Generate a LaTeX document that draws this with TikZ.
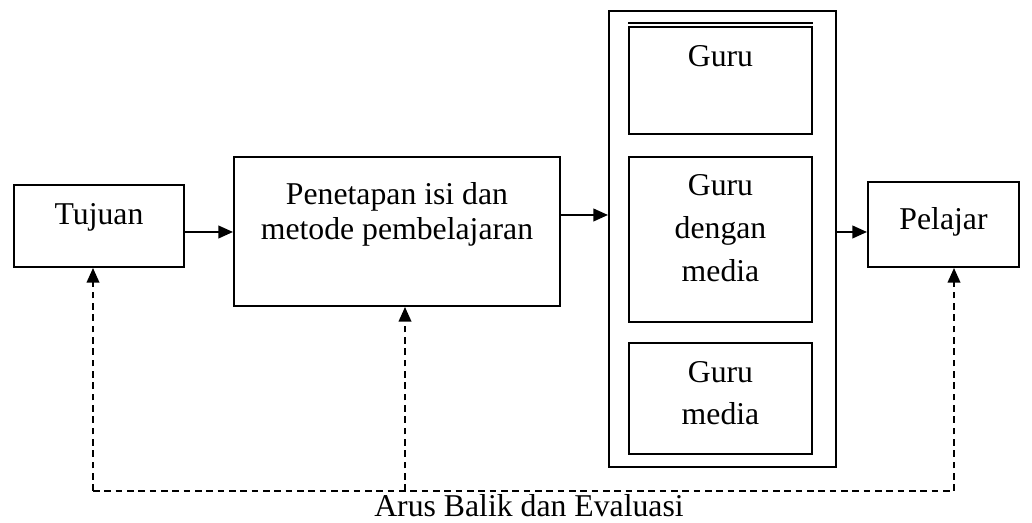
\documentclass[tikz,border=0pt]{standalone}
\usepackage{fontspec}
\setmainfont{Liberation Serif}
\usetikzlibrary{arrows.meta,fit}
\begin{document}
\begin{tikzpicture}[x=0.75pt,y=-0.75pt,
  box/.style={draw=black,line width=1.5pt,inner sep=0pt,fill=none},
  lbl/.style={anchor=base,inner sep=0pt,font=\fontsize{23.8}{28}\selectfont},
  arr/.style={line width=1.5pt,-{Triangle[length=11pt,width=9.5pt]}},
  fb/.style={line width=1.3pt,dash pattern=on 5pt off 3.5pt},
  fbarr/.style={fb,-{Triangle[length=11pt,width=9.5pt]}}]
\useasboundingbox (0,0) rectangle (1032,523);
% boxes
\node[box,fit={(14,185) (184,267)}] (tujuan) {};
\node[box,fit={(234,157) (560,306)}] (penetapan) {};
\node[box,fit={(609,11) (836,467)}] (outer) {};
\node[box,fit={(629,27) (812,134)}] (g1) {};
\draw[line width=1.5pt] (g1.north west) ++(0,-3) coordinate (g1a) -- (g1.north east |- g1a);
\node[box,fit={(629,157) (812,322)}] (g2) {};
\node[box,fit={(629,343) (812,454)}] (g3) {};
\node[box,fit={(868,182) (1019,267)}] (pelajar) {};
% texts
\node[lbl] (ttujuan) at (99,225) {Tujuan};
\node[lbl] (tpen1) at (397,205) {Penetapan isi dan};
\node[lbl] (tpen2) at (397,240) {metode pembelajaran};
\node[lbl] (tg1) at (720.5,67) {Guru};
\node[lbl] (tg2a) at (720.5,196) {Guru};
\node[lbl] (tg2b) at (720.5,239) {dengan};
\node[lbl] (tg2c) at (720.5,282) {media};
\node[lbl] (tg3a) at (720.5,383) {Guru};
\node[lbl] (tg3b) at (720.5,425) {media};
\node[lbl] (tpel) at (943.5,230) {Pelajar};
\node[lbl] (tarus) at (529,516.5) {Arus Balik dan Evaluasi};
% arrows
\draw[arr] (tujuan.east |- 0,232) -- (penetapan.west |- 0,232);
\draw[arr] (penetapan.east |- 0,215) -- (outer.west |- 0,215);
\draw[arr] (outer.east |- 0,232) -- (pelajar.west |- 0,232);
% feedback
\coordinate (fl) at (93,491);
\coordinate (fm) at (405,491);
\coordinate (fr) at (954,491);
\draw[fb] (fl) -- (fr);
\draw[fbarr] (fl) -- (tujuan.south -| fl);
\draw[fbarr] (fm) -- (penetapan.south -| fm);
\draw[fbarr] (fr) -- (pelajar.south -| fr);
\end{tikzpicture}
\end{document}
